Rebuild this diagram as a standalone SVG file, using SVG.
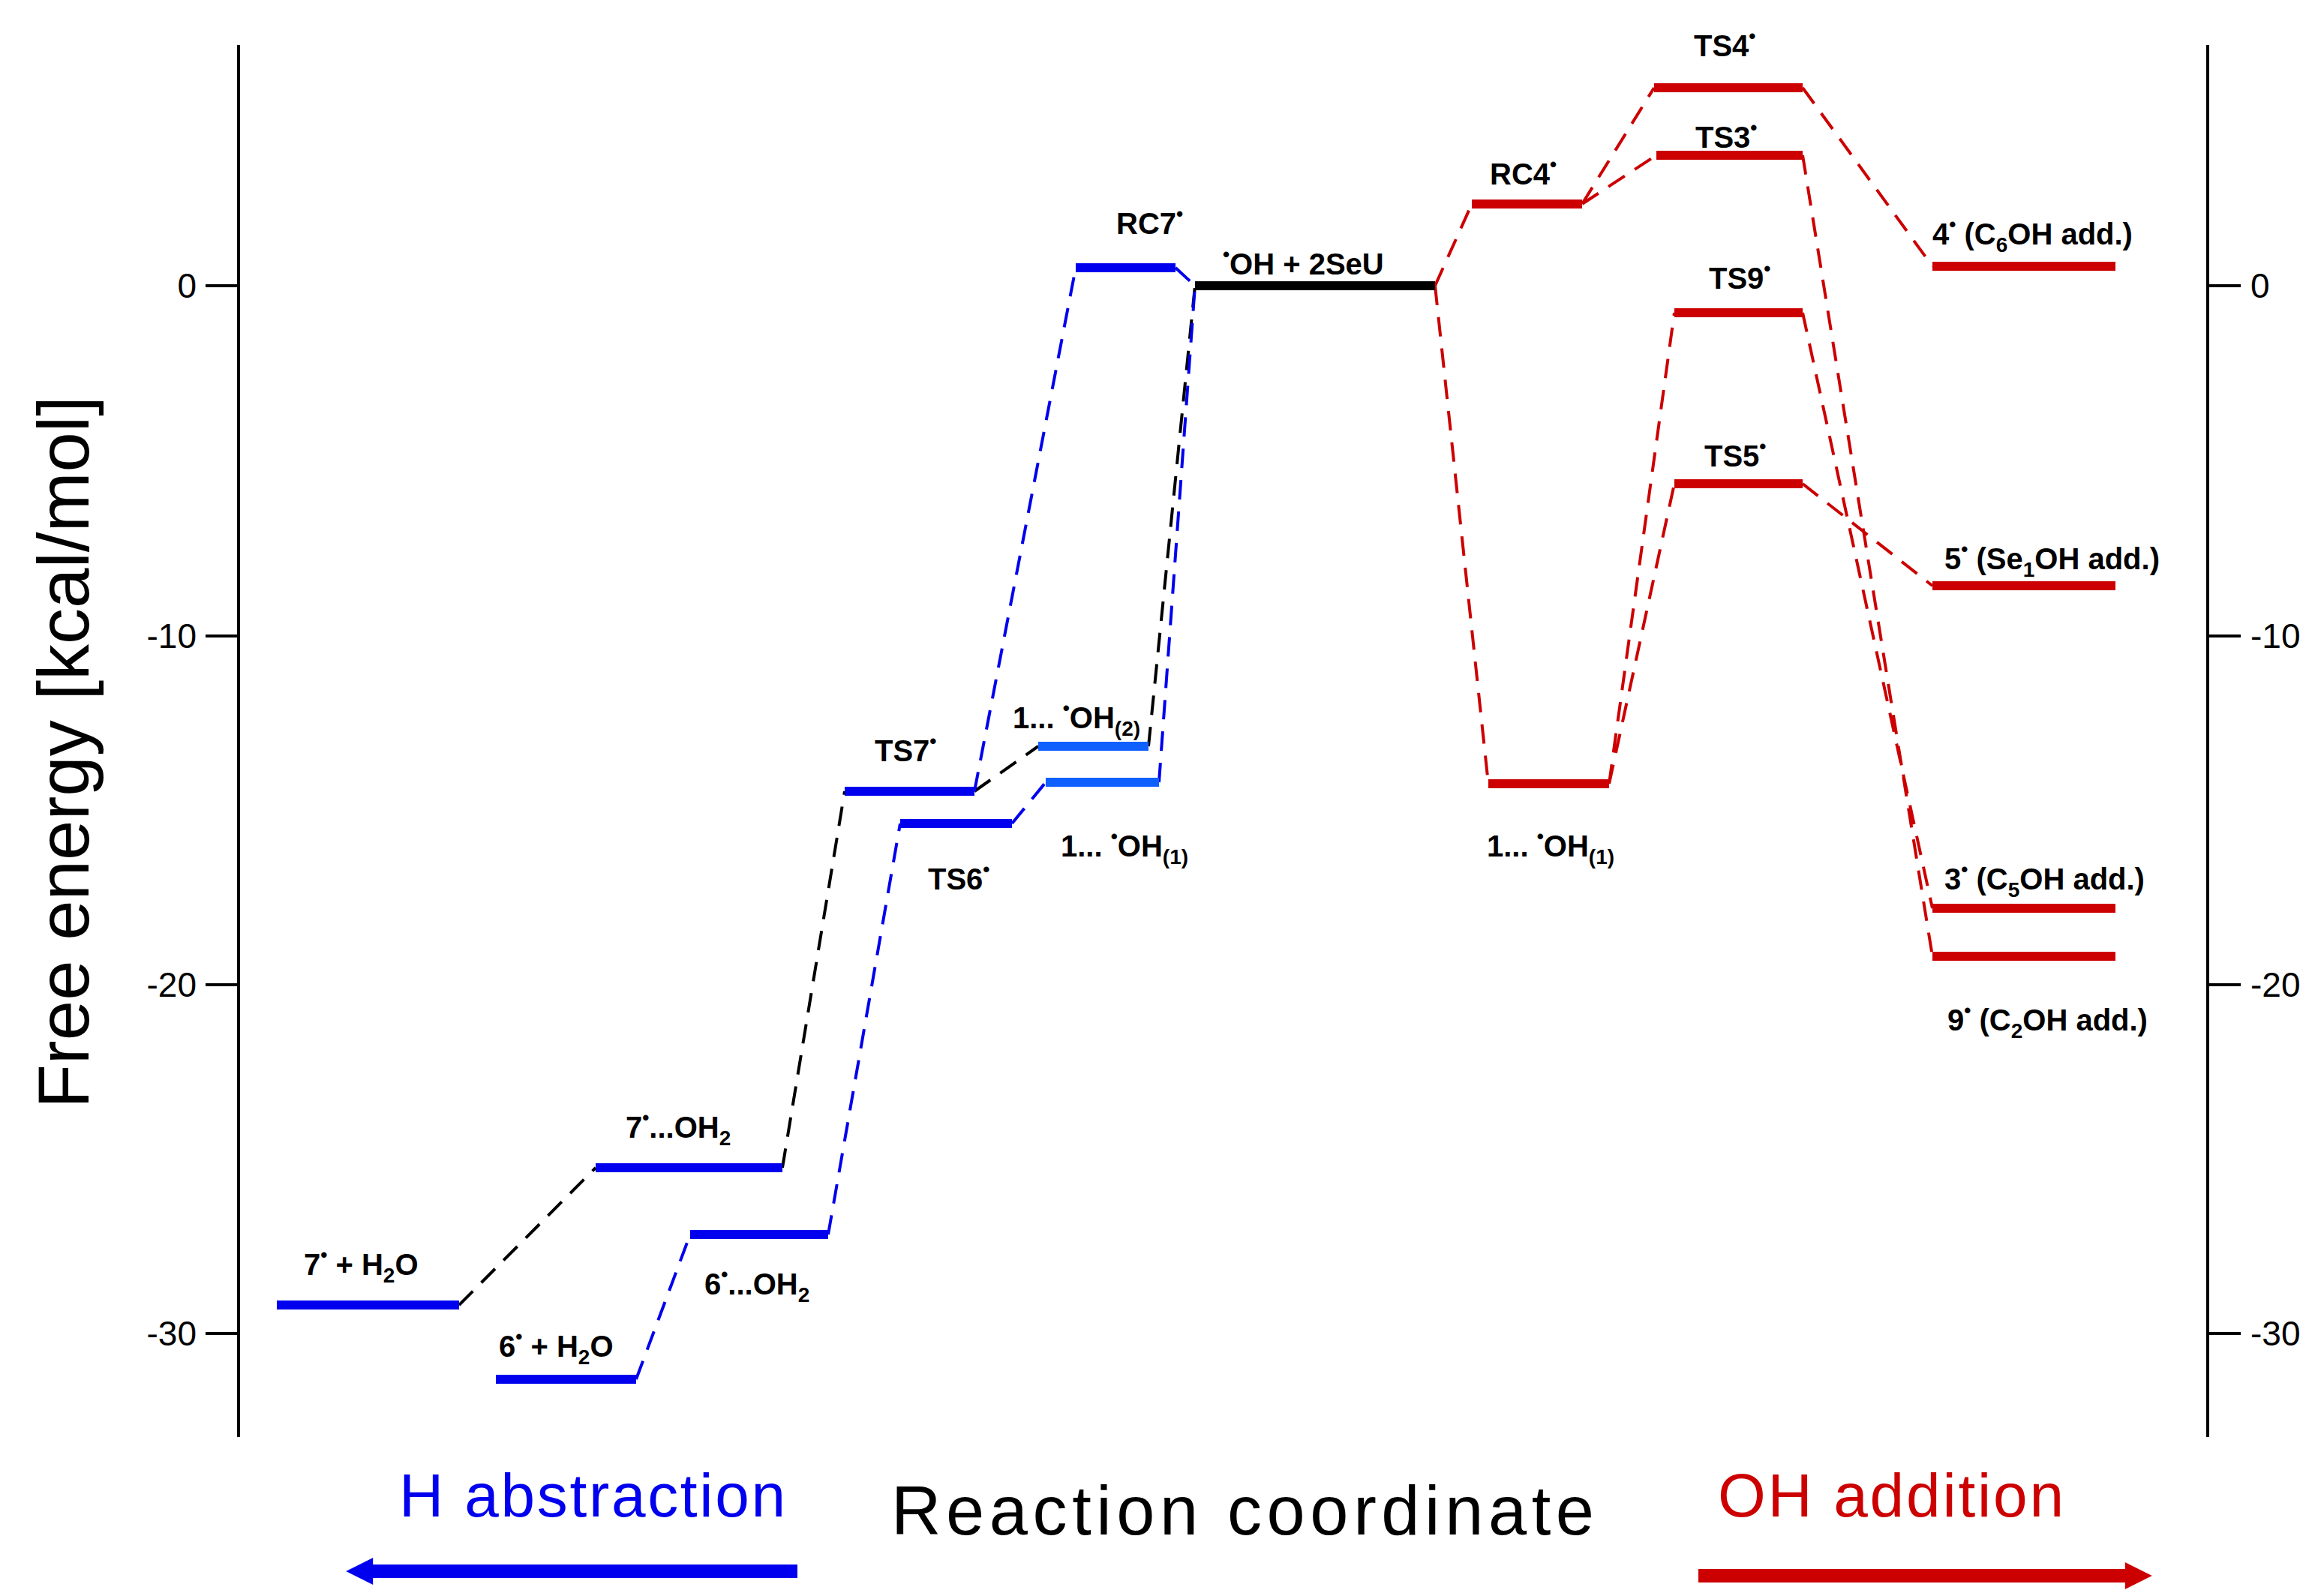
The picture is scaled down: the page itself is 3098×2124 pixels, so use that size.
<svg xmlns="http://www.w3.org/2000/svg" width="3098" height="2124" viewBox="0 0 3098 2124">
<style>
.ax{stroke:#000;stroke-width:4;fill:none}
.tk{font-family:"Liberation Sans",Arial,sans-serif;font-size:46px;fill:#000}
.lb{font-family:"Liberation Sans Narrow","Liberation Sans",Arial,sans-serif;font-weight:bold;font-size:40px;fill:#000}
.sup{font-size:26px}
.sub{font-size:28px}
.lv{stroke-width:12;fill:none}
.b{stroke:#0000ee}.lb2{stroke:#1060ff}.r{stroke:#cc0000}.k{stroke:#000}
.d{stroke-width:4;fill:none;stroke-dasharray:26 16}
</style>
<defs>
<marker id="ab" viewBox="0 0 10 10" refX="2" refY="5" markerWidth="3" markerHeight="2" orient="auto"><path d="M0,0 L10,5 L0,10 z" fill="#0000ee"/></marker>
<marker id="ar" viewBox="0 0 10 10" refX="2" refY="5" markerWidth="3" markerHeight="2" orient="auto"><path d="M0,0 L10,5 L0,10 z" fill="#cc0000"/></marker>
</defs>
<g id="axes">
<line class="ax" x1="318" y1="60" x2="318" y2="1916"/>
<line class="ax" x1="2943" y1="60" x2="2943" y2="1916"/>
<path class="ax" d="M274 381H318M274 848H318M274 1313H318M274 1778H318M2943 381H2987M2943 848H2987M2943 1313H2987M2943 1778H2987"/>
<g class="tk" text-anchor="end"><text x="262" y="397">0</text><text x="262" y="864">-10</text><text x="262" y="1329">-20</text><text x="262" y="1794">-30</text></g>
<g class="tk"><text x="3000" y="397">0</text><text x="3000" y="864">-10</text><text x="3000" y="1329">-20</text><text x="3000" y="1794">-30</text></g>
<text transform="translate(118,1003) rotate(-90)" text-anchor="middle" font-family="Liberation Sans,Arial,sans-serif" font-size="96">Free energy [kcal/mol]</text>
</g>
<g id="connectors">
<path class="d k" d="M612 1740L794 1557M1043 1557L1126 1055M1299 1055L1384 995M1531 995L1593 381"/>
<path class="d b" d="M848 1839L920 1646M1104 1646L1200 1098M1349 1098L1394 1043M1545 1043L1593 381M1299 1055L1434 357M1567 357L1593 381"/>
<path class="d r" d="M1913 381L1962 272M1913 381L1984 1045M2109 272L2205 117M2109 272L2208 207M2403 117L2576 355M2145 1045L2232 417M2145 1045L2232 645M2403 207L2576 1275M2403 417L2576 1211M2403 645L2576 781"/>
</g>
<g id="n7H2O"><line class="lv b" x1="369" y1="1740" x2="612" y2="1740"/><text class="lb" x="405" y="1700">7<tspan class="sup" dy="-18">•</tspan><tspan dy="18"> + H</tspan><tspan class="sub" dy="10">2</tspan><tspan dy="-10">O</tspan></text></g>
<g id="n6H2O"><line class="lv b" x1="661" y1="1839" x2="848" y2="1839"/><text class="lb" x="665" y="1809">6<tspan class="sup" dy="-18">•</tspan><tspan dy="18"> + H</tspan><tspan class="sub" dy="10">2</tspan><tspan dy="-10">O</tspan></text></g>
<g id="n7OH2"><line class="lv b" x1="794" y1="1557" x2="1043" y2="1557"/><text class="lb" x="834" y="1517">7<tspan class="sup" dy="-18">•</tspan><tspan dy="18">...OH</tspan><tspan class="sub" dy="10">2</tspan></text></g>
<g id="n6OH2"><line class="lv b" x1="920" y1="1646" x2="1104" y2="1646"/><text class="lb" x="939" y="1726">6<tspan class="sup" dy="-18">•</tspan><tspan dy="18">...OH</tspan><tspan class="sub" dy="10">2</tspan></text></g>
<g id="TS7"><line class="lv b" x1="1126" y1="1055" x2="1299" y2="1055"/><text class="lb" x="1166" y="1015">TS7<tspan class="sup" dy="-18">•</tspan></text></g>
<g id="TS6"><line class="lv b" x1="1200" y1="1098" x2="1349" y2="1098"/><text class="lb" x="1237" y="1186">TS6<tspan class="sup" dy="-18">•</tspan></text></g>
<g id="n1OH2"><line class="lv lb2" x1="1384" y1="995" x2="1531" y2="995"/><text class="lb" x="1350" y="971">1... <tspan class="sup" dy="-18">•</tspan><tspan dy="18">OH</tspan><tspan class="sub" dy="10">(2)</tspan></text></g>
<g id="n1OH1b"><line class="lv lb2" x1="1394" y1="1043" x2="1545" y2="1043"/><text class="lb" x="1414" y="1142">1... <tspan class="sup" dy="-18">•</tspan><tspan dy="18">OH</tspan><tspan class="sub" dy="10">(1)</tspan></text></g>
<g id="RC7"><line class="lv b" x1="1434" y1="357" x2="1567" y2="357"/><text class="lb" x="1488" y="312">RC7<tspan class="sup" dy="-18">•</tspan></text></g>
<g id="OHSeU"><line class="lv k" x1="1593" y1="381" x2="1913" y2="381"/><text class="lb" x="1630" y="366"><tspan class="sup" dy="-18">•</tspan><tspan dy="18">OH + 2SeU</tspan></text></g>
<g id="RC4"><line class="lv r" x1="1962" y1="272" x2="2109" y2="272"/><text class="lb" x="1986" y="246">RC4<tspan class="sup" dy="-18">•</tspan></text></g>
<g id="TS4"><line class="lv r" x1="2205" y1="117" x2="2403" y2="117"/><text class="lb" x="2258" y="75">TS4<tspan class="sup" dy="-18">•</tspan></text></g>
<g id="TS3"><line class="lv r" x1="2208" y1="207" x2="2403" y2="207"/><text class="lb" x="2260" y="197">TS3<tspan class="sup" dy="-18">•</tspan></text></g>
<g id="TS9"><line class="lv r" x1="2232" y1="417" x2="2403" y2="417"/><text class="lb" x="2278" y="385">TS9<tspan class="sup" dy="-18">•</tspan></text></g>
<g id="TS5"><line class="lv r" x1="2232" y1="645" x2="2403" y2="645"/><text class="lb" x="2272" y="622">TS5<tspan class="sup" dy="-18">•</tspan></text></g>
<g id="n1OH1r"><line class="lv r" x1="1984" y1="1045" x2="2145" y2="1045"/><text class="lb" x="1982" y="1142">1... <tspan class="sup" dy="-18">•</tspan><tspan dy="18">OH</tspan><tspan class="sub" dy="10">(1)</tspan></text></g>
<g id="n4"><line class="lv r" x1="2576" y1="355" x2="2820" y2="355"/><text class="lb" x="2576" y="326">4<tspan class="sup" dy="-18">•</tspan><tspan dy="18"> (C</tspan><tspan class="sub" dy="10">6</tspan><tspan dy="-10">OH add.)</tspan></text></g>
<g id="n5"><line class="lv r" x1="2576" y1="781" x2="2820" y2="781"/><text class="lb" x="2592" y="759">5<tspan class="sup" dy="-18">•</tspan><tspan dy="18"> (Se</tspan><tspan class="sub" dy="10">1</tspan><tspan dy="-10">OH add.)</tspan></text></g>
<g id="n3"><line class="lv r" x1="2576" y1="1211" x2="2820" y2="1211"/><text class="lb" x="2592" y="1186">3<tspan class="sup" dy="-18">•</tspan><tspan dy="18"> (C</tspan><tspan class="sub" dy="10">5</tspan><tspan dy="-10">OH add.)</tspan></text></g>
<g id="n9"><line class="lv r" x1="2576" y1="1275" x2="2820" y2="1275"/><text class="lb" x="2596" y="1374">9<tspan class="sup" dy="-18">•</tspan><tspan dy="18"> (C</tspan><tspan class="sub" dy="10">2</tspan><tspan dy="-10">OH add.)</tspan></text></g>
<g id="legend" font-family="Liberation Sans,Arial,sans-serif">
<text x="532" y="2022" font-size="82" fill="#0000ee" textLength="515">H abstraction</text>
<text x="1188" y="2046" font-size="92" fill="#000" textLength="937">Reaction coordinate</text>
<text x="2290" y="2022" font-size="82" fill="#cc0000" textLength="461">OH addition</text>
<line x1="1063" y1="2095" x2="490" y2="2095" stroke="#0000ee" stroke-width="18" marker-end="url(#ab)"/>
<line x1="2264" y1="2101" x2="2840" y2="2101" stroke="#cc0000" stroke-width="18" marker-end="url(#ar)"/>
</g>
</svg>
